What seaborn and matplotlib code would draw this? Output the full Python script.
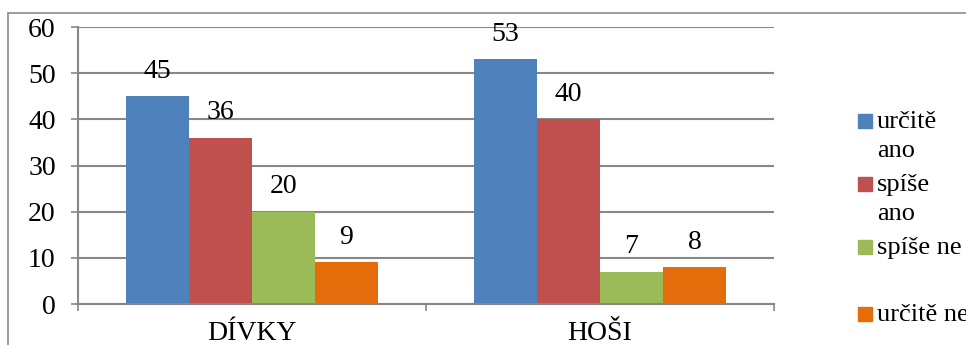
import matplotlib
matplotlib.use("Agg")
import matplotlib.pyplot as plt
from matplotlib import font_manager as fm
from matplotlib.patches import Rectangle
from matplotlib.text import Text
import pandas as pd
import seaborn as sns

groups = ["DÍVKY", "HOŠI"]
answers = ["určitě ano", "spíše ano", "spíše ne", "určitě ne"]
legend_labels = ["určitě\nano", "spíše\nano", "spíše ne", "určitě ne"]
values = {
    "určitě ano": [45, 53],
    "spíše ano": [36, 40],
    "spíše ne": [20, 7],
    "určitě ne": [9, 8],
}
colors = ["#4F81BD", "#C0504D", "#9BBB59", "#E46C0A"]
yticks = [0, 10, 20, 30, 40, 50, 60]

rows = []
for a in answers:
    for g, v in zip(groups, values[a]):
        rows.append({"skupina": g, "odpověď": a, "počet": v})
df = pd.DataFrame(rows)

serif_path = fm.findfont(fm.FontProperties(family="Liberation Serif"))
fp = fm.FontProperties(fname=serif_path, size=20)
fp_legend = fm.FontProperties(fname=serif_path, size=19)

fig = plt.figure(figsize=(9.66, 3.45), dpi=100)
ax = fig.add_axes([0.0807, 0.1188, 0.7206, 0.8029])

sns.barplot(data=df, x="skupina", y="počet", hue="odpověď", order=groups,
            hue_order=answers, palette=colors, saturation=1, width=0.724,
            edgecolor="none", linewidth=0, legend=False, ax=ax)

for cont in ax.containers:
    ax.bar_label(cont, fmt="%d", padding=9, color="black")

grid_c = "#878787"
ax.set_ylim(0, 60)
ax.set_xlim(-0.5, 1.5)
ax.set_yticks(yticks)
ax.set_yticklabels([str(t) for t in yticks])
ax.yaxis.grid(True, color=grid_c, linewidth=1.5)
ax.set_axisbelow(True)
ax.tick_params(axis="y", length=5, width=1.2, color=grid_c, pad=11, left=True)
ax.set_xticks([0, 1])
ax.set_xticklabels(groups)
ax.set_xticks([-0.5, 0.5, 1.5], minor=True)
ax.tick_params(axis="x", which="major", length=0, pad=12)
ax.tick_params(axis="x", which="minor", length=5, width=1.2, color=grid_c, bottom=True)
ax.set_xlabel("")
ax.set_ylabel("")
for s in ["top", "right"]:
    ax.spines[s].set_visible(False)
for s in ["left", "bottom"]:
    ax.spines[s].set_color(grid_c)
    ax.spines[s].set_linewidth(1.5)

for t in fig.findobj(Text):
    t.set_fontproperties(fp)

# legend: square aligned with the first line of each label
sq_w, sq_h = 14 / 966, 14 / 345
legend_y = [121, 184, 247, 314]
for lbl, c, yp in zip(legend_labels, colors, legend_y):
    y = 1 - yp / 345
    fig.patches.append(Rectangle((858 / 966, y - sq_h / 2), sq_w, sq_h,
                                 transform=fig.transFigure, color=c))
    fig.text(877 / 966, y + 0.030, lbl, va="top", ha="left",
             linespacing=1.45, fontproperties=fp_legend)

# chart frame
fig.patches.append(Rectangle((8 / 966, -0.1), 1.2, 1 - 13 / 345 + 0.1,
                             transform=fig.transFigure, fill=False,
                             edgecolor="#8a8a8a", linewidth=1.2))

fig.savefig("out.png", dpi=100)
